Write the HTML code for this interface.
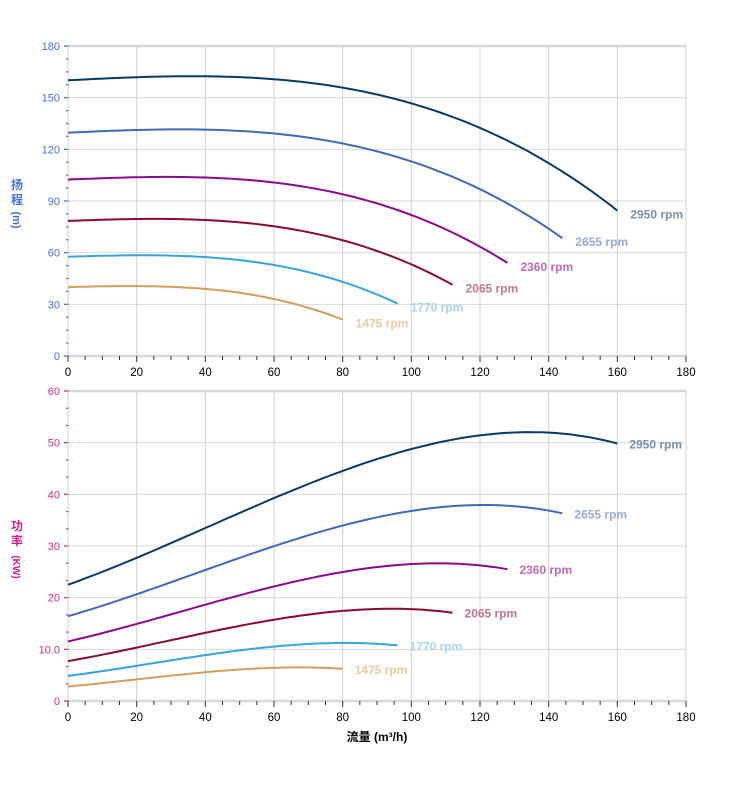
<!DOCTYPE html>
<html><head><meta charset="utf-8"><style>
body{margin:0;background:#fff}
svg text{font-family:"Liberation Sans","Noto Sans CJK SC",sans-serif}
</style></head><body>
<svg id="s" width="752" height="797" xmlns="http://www.w3.org/2000/svg"></svg>
<script>
const s=document.getElementById('s');let h='';
const X=q=>68+q*618/180;
const T={y0:356,y1:46,max:180}, B={y0:701,y1:391,max:60};
const Y=(c,v)=>c.y0-(c.y0-c.y1)*v/c.max;
for(const [c,step,col,mn] of [[T,30,'#4a6ee0',4],[B,10,'#d0308a',3]]){
  for(let v=0;v<=c.max;v+=step){const y=Y(c,v);
    h+=`<line x1="68" x2="686" y1="${y}" y2="${y}" stroke="#d8d8d8" stroke-width="${(v==0||v==c.max)?2.5:1}"/>`;
    h+=`<text x="60" y="${y+4}" font-size="11" fill="${col}" text-anchor="end">${c===B&&v==10?'10.0':v}</text>`;}
  for(let k=0;k<=c.max/step*mn;k++){const y=Y(c,k*step/mn);h+=`<line x1="${k%mn?66:64}" x2="69" y1="${y}" y2="${y}" stroke="${col}" stroke-width="1.3"/>`;}
  for(let q=0;q<=180;q+=20){const x=X(q);h+=`<line x1="${x}" x2="${x}" y1="${c.y1}" y2="${c.y0}" stroke="#d0d0d0" stroke-width="1"/>`;
    h+=`<text x="${x}" y="${c.y0+20}" font-size="11.5" fill="#000" text-anchor="middle">${q}</text>`;}
  for(let q=0;q<=180;q+=5){const x=X(q);h+=`<line x1="${x}" x2="${x}" y1="${c.y0}" y2="${c.y0+(q%20?4:6)}" stroke="#333" stroke-width="1"/>`;}
}
function fit(xs,ys,deg){const n=deg+1;const A=[],b=[];for(let i=0;i<n;i++){A.push(new Array(n).fill(0));b.push(0);}
  xs.forEach((x,k)=>{for(let i=0;i<n;i++){b[i]+=ys[k]*x**i;for(let j=0;j<n;j++)A[i][j]+=x**(i+j);}});
  for(let i=0;i<n;i++){for(let r=i+1;r<n;r++){const f=A[r][i]/A[i][i];for(let j=i;j<n;j++)A[r][j]-=f*A[i][j];b[r]-=f*b[i];}}
  const c=new Array(n).fill(0);for(let i=n-1;i>=0;i--){let v=b[i];for(let j=i+1;j<n;j++)v-=A[i][j]*c[j];c[i]=v/A[i][i];}
  return x=>c.reduce((a,ci,i)=>a+ci*x**i,0);}
const Hf=fit([0,20,40,60,80,100,120,140,160],[160,162,162.5,160.5,155.5,147.5,132,112,84.5],3);
const Pf=fit([0,20,40,60,80,100,120,135,150,160],[22.5,27.7,33.5,39.3,44.5,48.7,51.5,52,51.3,49.8],3);
const S=[[2950,'#0a3a66','#7a90aa'],[2655,'#4169b8','#9aaad8'],[2360,'#8b0a8b','#bb6cbb'],[2065,'#8a0a30','#c07888'],[1770,'#38a4df','#a8d4f0'],[1475,'#d29e5c','#ecca9c']];
for(const [n,c,lc] of S){const r=n/2950;let d1='',d2='';
  for(let i=0;i<=80;i++){const q=160*r*i/80;
    const hv=r*r*Hf(q/r), pv=r*r*r*Pf(q/r);
    d1+=(i?'L':'M')+X(q).toFixed(1)+' '+Y(T,hv).toFixed(1);
    d2+=(i?'L':'M')+X(q).toFixed(1)+' '+Y(B,pv).toFixed(1);}
  h+=`<path d="${d1}" fill="none" stroke="${c}" stroke-width="2"/><path d="${d2}" fill="none" stroke="${c}" stroke-width="2"/>`;
  const qe=160*r,he=r*r*Hf(160),pe=r*r*r*Pf(160);
  h+=`<text x="${X(qe)+13}" y="${Y(T,he)+8}" font-size="12" font-weight="bold" fill="${lc}">${n} rpm</text>`;
  h+=`<text x="${X(qe)+12}" y="${Y(B,pe)+5}" font-size="12" font-weight="bold" fill="${lc}">${n} rpm</text>`;}
h+=`<g font-size="12" font-weight="bold" fill="#4a6ee0" text-anchor="middle"><text x="17" y="189">扬</text><text x="17" y="204">程</text><text x="17" y="224" transform="rotate(90 17 220)" font-size="11">(m)</text></g>`;
h+=`<g font-size="12" font-weight="bold" fill="#cc2288" text-anchor="middle"><text x="17" y="530">功</text><text x="17" y="545">率</text><text x="17" y="571" transform="rotate(90 17 567)" font-size="10">(KW)</text></g>`;
h+=`<text x="377" y="741" font-size="12" font-weight="bold" text-anchor="middle" fill="#000">流量 (m³/h)</text>`;
s.innerHTML=h;
</script>
</body></html>
